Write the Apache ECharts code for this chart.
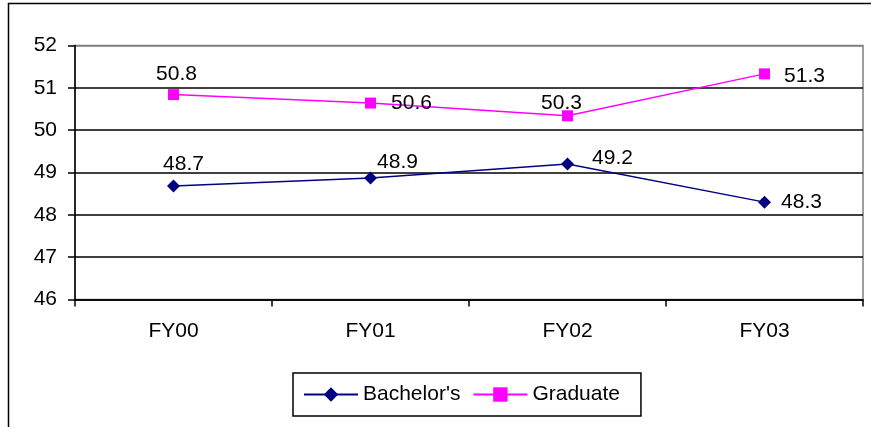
<!DOCTYPE html>
<html style="height: 100%">
<head>
<meta charset="utf-8" />
<title>Bachelor's vs Graduate</title>
</head>
<body style="height: 100%; margin: 0; background: #fff">
<div id="container" style="width: 871px; height: 427px"></div>
<script type="text/javascript" src="https://cdn.jsdelivr.net/npm/echarts@6/dist/echarts.min.js"></script>
<script type="text/javascript">
var categories = ['FY00', 'FY01', 'FY02', 'FY03'];
var bachelors = [48.68, 48.87, 49.2, 48.3];
var graduate = [50.84, 50.64, 50.34, 51.33];
var yMin = 46, yMax = 52, yStep = 1;

// label offsets from the marker centre (styling only)
var bachOffsets = [[10, -22], [27, -16], [45, -6], [37, 0]];
var gradOffsets = [[3, -20], [41, 0], [-6, -13], [40, 2]];

var font = '"Liberation Sans", Arial, sans-serif';
var fs = 21;

function withLabels(values, offsets) {
    return values.map(function (v, i) {
        return {
            value: v,
            label: { offset: offsets[i] }
        };
    });
}

var dom = document.getElementById('container');
var myChart = echarts.init(dom);
var option = {
    animation: false,
    textStyle: { fontFamily: font },
    graphic: [{
        type: 'rect',
        shape: { x: 8.5, y: 3.5, width: 900, height: 500 },
        style: { fill: 'none', stroke: '#000', lineWidth: 1.5 },
        silent: true
    }],
    grid: {
        left: 75, right: 8, top: 45.5, bottom: 127.5,
        show: true, borderColor: '#808080', borderWidth: 1.5,
        backgroundColor: 'transparent'
    },
    legend: {
        left: 293, top: 373,
        itemWidth: 54, itemHeight: 18, itemGap: 12,
        padding: [11, 21, 11, 10],
        borderColor: '#000', borderWidth: 1.5,
        textStyle: { fontSize: fs, color: '#000', fontFamily: font },
        data: ["Bachelor's", 'Graduate']
    },
    xAxis: {
        type: 'category',
        data: categories,
        boundaryGap: true,
        axisLine: { lineStyle: { color: '#000', width: 1.5 } },
        axisTick: { show: true, length: 7, lineStyle: { color: '#000', width: 1.5 } },
        axisLabel: { fontSize: fs, color: '#000', margin: 21, fontFamily: font }
    },
    yAxis: {
        type: 'value',
        min: yMin, max: yMax, interval: yStep,
        axisLine: { show: true, lineStyle: { color: '#000', width: 1.5 } },
        axisTick: { show: true, length: 7, lineStyle: { color: '#000', width: 1.5 } },
        axisLabel: { fontSize: fs, color: '#000', margin: 18, fontFamily: font },
        splitLine: {
            show: true,
            lineStyle: {
                color: ['#000', '#000', '#000', '#000', '#000', '#000', '#808080'],
                width: 1.5
            }
        }
    },
    series: [{
        name: "Bachelor's",
        type: 'line',
        data: withLabels(bachelors, bachOffsets),
        symbol: 'diamond',
        symbolSize: 13,
        lineStyle: { color: '#000080', width: 1.5 },
        itemStyle: { color: '#000080' },
        label: {
            show: true, position: 'inside',
            align: 'center', verticalAlign: 'middle',
            fontSize: fs, color: '#000', fontFamily: font,
            formatter: function (p) { return p.value.toFixed(1); }
        }
    }, {
        name: 'Graduate',
        type: 'line',
        data: withLabels(graduate, gradOffsets),
        symbol: 'rect',
        symbolSize: 11,
        lineStyle: { color: '#ff00ff', width: 1.5 },
        itemStyle: { color: '#ff00ff' },
        label: {
            show: true, position: 'inside',
            align: 'center', verticalAlign: 'middle',
            fontSize: fs, color: '#000', fontFamily: font,
            formatter: function (p) { return p.value.toFixed(1); }
        }
    }]
};
myChart.setOption(option);
</script>
</body>
</html>
